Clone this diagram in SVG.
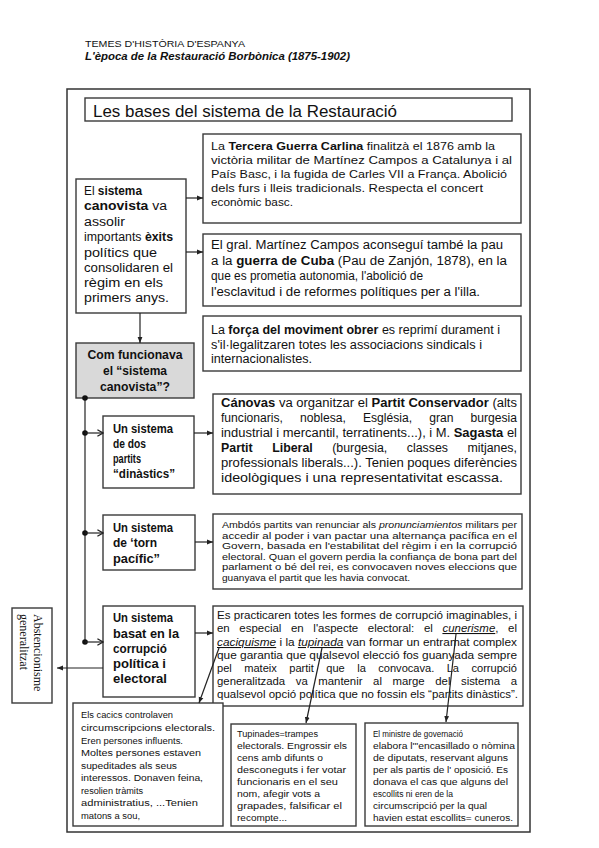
<svg xmlns="http://www.w3.org/2000/svg" width="599" height="848" viewBox="0 0 599 848">
<style>
text{font-family:"Liberation Sans",Arial,sans-serif;fill:#111;}
.b{font-weight:bold;}
.box{fill:#fff;stroke:#3a3a3a;stroke-width:1.4;}
.gray{fill:#d9d9d9;stroke:#3a3a3a;stroke-width:1.4;}
.c{fill:none;stroke:#222;stroke-width:1.2;}
.f12{font-size:12.3px;}
.f11{font-size:11.3px;}
.f10{font-size:10.7px;}
.f9{font-size:9.4px;}
.fs{font-size:9.2px;}
.bl{font-size:12.5px;font-weight:bold;}
.u{text-decoration:underline;font-style:italic;}
.serif{font-family:"Liberation Serif","Times New Roman",serif;font-size:12px;}
</style>
<defs>
<marker id="fa" viewBox="0 0 10 10" refX="10" refY="5" markerWidth="6" markerHeight="6" orient="auto" markerUnits="userSpaceOnUse"><path d="M0,1 L10,5 L0,9 z" fill="#222"/></marker>
<marker id="oa" viewBox="0 0 10 10" refX="9" refY="5" markerWidth="8" markerHeight="8" orient="auto" markerUnits="userSpaceOnUse"><path d="M2,1 L9,5 L2,9" fill="none" stroke="#222" stroke-width="1.6"/></marker>
</defs>
<rect width="599" height="848" fill="#fff"/>

<g id="header">
<text x="85" y="47" font-size="9.5" textLength="160" lengthAdjust="spacingAndGlyphs">TEMES D'HISTÒRIA D'ESPANYA</text>
<text x="85" y="60" font-size="10" font-weight="bold" font-style="italic" textLength="265" lengthAdjust="spacingAndGlyphs">L'època de la Restauració Borbònica (1875-1902)</text>
</g>

<rect id="frame" x="67" y="89" width="463" height="743" fill="none" stroke="#333" stroke-width="1.5"/>

<g id="title">
<rect class="box" x="85" y="98" width="427" height="23"/>
<text x="93" y="117" font-size="16" textLength="304" lengthAdjust="spacingAndGlyphs">Les bases del sistema de la Restauració</text>
</g>

<g id="canovista">
<rect class="box" x="76" y="179" width="110" height="134"/>
<text class="f12" x="84" y="195" textLength="58" lengthAdjust="spacingAndGlyphs">El <tspan class="b">sistema</tspan></text>
<text class="f12" x="84" y="210" textLength="83" lengthAdjust="spacingAndGlyphs"><tspan class="b">canovista</tspan> va</text>
<text class="f12" x="84" y="226" textLength="41" lengthAdjust="spacingAndGlyphs">assolir</text>
<text class="f12" x="84" y="241" textLength="89" lengthAdjust="spacingAndGlyphs">importants <tspan class="b">èxits</tspan></text>
<text class="f12" x="84" y="257" textLength="73" lengthAdjust="spacingAndGlyphs">polítics que</text>
<text class="f12" x="84" y="272" textLength="89" lengthAdjust="spacingAndGlyphs">consolidaren el</text>
<text class="f12" x="84" y="287" textLength="79" lengthAdjust="spacingAndGlyphs">règim en els</text>
<text class="f12" x="84" y="302" textLength="85" lengthAdjust="spacingAndGlyphs">primers anys.</text>
</g>

<g id="carlina">
<rect class="box" x="203" y="134" width="318" height="89"/>
<text class="f11" x="211" y="150" textLength="284" lengthAdjust="spacingAndGlyphs">La <tspan class="b">Tercera Guerra Carlina</tspan> finalitzà el 1876 amb la</text>
<text class="f11" x="211" y="164" textLength="301" lengthAdjust="spacingAndGlyphs">victòria militar de Martínez Campos a Catalunya i al</text>
<text class="f11" x="211" y="178" textLength="296" lengthAdjust="spacingAndGlyphs">País Basc, i la fugida de Carles VII a França. Abolició</text>
<text class="f11" x="211" y="192" textLength="272" lengthAdjust="spacingAndGlyphs">dels furs i lleis tradicionals. Respecta el concert</text>
<text class="f11" x="211" y="206" textLength="82" lengthAdjust="spacingAndGlyphs">econòmic basc.</text>
</g>

<g id="cuba">
<rect class="box" x="203" y="234" width="318" height="72"/>
<text class="f12" x="211" y="249" textLength="292" lengthAdjust="spacingAndGlyphs">El gral. Martínez Campos aconseguí també la pau</text>
<text class="f12" x="211" y="265" textLength="296" lengthAdjust="spacingAndGlyphs">a la <tspan class="b">guerra de Cuba</tspan> (Pau de Zanjón, 1878), en la</text>
<text class="f12" x="211" y="280" textLength="212" lengthAdjust="spacingAndGlyphs">que es prometia autonomia, l'abolició de</text>
<text class="f12" x="211" y="296" textLength="269" lengthAdjust="spacingAndGlyphs">l'esclavitud i de reformes polítiques per a l'illa.</text>
</g>

<g id="obrer">
<rect class="box" x="203" y="316" width="318" height="55"/>
<text class="f12" x="211" y="334" textLength="289" lengthAdjust="spacingAndGlyphs">La <tspan class="b">força del moviment obrer</tspan> es reprimí durament i</text>
<text class="f12" x="211" y="349" textLength="271" lengthAdjust="spacingAndGlyphs">s'il·legalitzaren totes les associacions sindicals i</text>
<text class="f12" x="211" y="363" textLength="101" lengthAdjust="spacingAndGlyphs">internacionalistes.</text>
</g>

<g id="comfunciona">
<rect class="gray" x="76" y="343" width="118" height="55"/>
<text x="135" y="359" font-size="13" font-weight="bold" text-anchor="middle" textLength="95" lengthAdjust="spacingAndGlyphs">Com funcionava</text>
<text x="135" y="375" font-size="13" font-weight="bold" text-anchor="middle" textLength="64" lengthAdjust="spacingAndGlyphs">el “sistema</text>
<text x="135" y="391" font-size="13" font-weight="bold" text-anchor="middle" textLength="70" lengthAdjust="spacingAndGlyphs">canovista”?</text>
</g>

<g id="dospartits">
<rect class="box" x="103" y="416" width="91" height="72"/>
<text class="bl" x="113" y="433" textLength="60" lengthAdjust="spacingAndGlyphs">Un sistema</text>
<text class="bl" x="113" y="448" textLength="33" lengthAdjust="spacingAndGlyphs">de dos</text>
<text class="bl" x="113" y="463" textLength="28" lengthAdjust="spacingAndGlyphs">partits</text>
<text class="bl" x="113" y="478" textLength="62" lengthAdjust="spacingAndGlyphs">“dinàstics”</text>
</g>

<g id="canovas">
<rect class="box" x="213" y="394" width="308" height="100"/>
<text class="f12" x="221" y="407" textLength="296" lengthAdjust="spacingAndGlyphs"><tspan class="b">Cánovas</tspan> va organitzar el <tspan class="b">Partit Conservador</tspan> (alts</text>
<text class="f12" x="221" y="422" textLength="296" lengthAdjust="spacingAndGlyphs" word-spacing="14">funcionaris, noblesa, Església, gran burgesia</text>
<text class="f12" x="221" y="437" textLength="296" lengthAdjust="spacingAndGlyphs">industrial i mercantil, terratinents...), i M. <tspan class="b">Sagasta</tspan> el</text>
<text class="f12" x="221" y="452" textLength="296" lengthAdjust="spacingAndGlyphs" word-spacing="16"><tspan class="b">Partit Liberal</tspan> (burgesia, classes mitjanes,</text>
<text class="f12" x="221" y="467" textLength="296" lengthAdjust="spacingAndGlyphs">professionals liberals...). Tenien poques diferències</text>
<text class="f12" x="221" y="482" textLength="282" lengthAdjust="spacingAndGlyphs">ideològiques i una representativitat escassa.</text>
</g>

<g id="torn">
<rect class="box" x="103" y="515" width="92" height="55"/>
<text class="bl" x="113" y="532" textLength="60" lengthAdjust="spacingAndGlyphs">Un sistema</text>
<text class="bl" x="113" y="547" textLength="44" lengthAdjust="spacingAndGlyphs">de ‘torn</text>
<text class="bl" x="113" y="563" textLength="47" lengthAdjust="spacingAndGlyphs">pacífic”</text>
</g>

<g id="ambdos">
<rect class="box" x="213" y="514" width="309" height="75"/>
<text class="f9" x="222" y="528" textLength="295" lengthAdjust="spacingAndGlyphs">Ambdós partits van renunciar als <tspan font-style="italic">pronunciamientos</tspan> militars per</text>
<text class="f9" x="222" y="538.5" textLength="295" lengthAdjust="spacingAndGlyphs">accedir al poder i van pactar una alternança pacífica en el</text>
<text class="f9" x="222" y="549" textLength="295" lengthAdjust="spacingAndGlyphs">Govern, basada en l'estabilitat del règim i en la corrupció</text>
<text class="f9" x="222" y="559.5" textLength="295" lengthAdjust="spacingAndGlyphs">electoral. Quan el govern perdia la confiança de bona part del</text>
<text class="f9" x="222" y="570" textLength="295" lengthAdjust="spacingAndGlyphs">parlament o bé del rei, es convocaven noves eleccions que</text>
<text class="f9" x="222" y="580.5" textLength="188" lengthAdjust="spacingAndGlyphs">guanyava el partit que les havia convocat.</text>
</g>

<g id="corrupcio">
<rect class="box" x="103" y="606" width="92" height="91"/>
<text x="113" y="622" font-size="13" font-weight="bold" textLength="60" lengthAdjust="spacingAndGlyphs">Un sistema</text>
<text x="113" y="638" font-size="13" font-weight="bold" textLength="66" lengthAdjust="spacingAndGlyphs">basat en la</text>
<text x="113" y="653" font-size="13" font-weight="bold" textLength="54" lengthAdjust="spacingAndGlyphs">corrupció</text>
<text x="113" y="668" font-size="13" font-weight="bold" textLength="53" lengthAdjust="spacingAndGlyphs">política i</text>
<text x="113" y="683" font-size="13" font-weight="bold" textLength="54" lengthAdjust="spacingAndGlyphs">electoral</text>
</g>

<g id="abstencionisme">
<rect class="box" x="12" y="608" width="40" height="95"/>
<text class="serif" transform="translate(34,614) rotate(90)">Abstencionisme</text>
<text class="serif" transform="translate(20,614) rotate(90)">generalitzat</text>
</g>

<g id="practicaren">
<rect class="box" x="213" y="606" width="310" height="100"/>
<text class="f10" x="217" y="619" textLength="300" lengthAdjust="spacingAndGlyphs">Es practicaren totes les formes de corrupció imaginables, i</text>
<text class="f10" x="217" y="632" textLength="300" lengthAdjust="spacingAndGlyphs" word-spacing="6">en especial en l'aspecte electoral: el <tspan class="u">cunerisme</tspan>, el</text>
<text class="f10" x="217" y="646" textLength="300" lengthAdjust="spacingAndGlyphs"><tspan class="u">caciquisme</tspan> i la <tspan class="u">tupinada</tspan> van formar un entramat complex</text>
<text class="f10" x="217" y="659" textLength="300" lengthAdjust="spacingAndGlyphs">que garantia que qualsevol elecció fos guanyada sempre</text>
<text class="f10" x="217" y="672" textLength="300" lengthAdjust="spacingAndGlyphs" word-spacing="9">pel mateix partit que la convocava. La corrupció</text>
<text class="f10" x="217" y="685" textLength="300" lengthAdjust="spacingAndGlyphs" word-spacing="7">generalitzada va mantenir al marge del sistema a</text>
<text class="f10" x="217" y="698" textLength="301" lengthAdjust="spacingAndGlyphs">qualsevol opció política que no fossin els “partits dinàstics”.</text>
</g>

<g id="cacics">
<rect class="box" x="73" y="703" width="150" height="123"/>
<text class="fs" x="81" y="718" textLength="92" lengthAdjust="spacingAndGlyphs">Els cacics controlaven</text>
<text class="fs" x="81" y="731" textLength="134" lengthAdjust="spacingAndGlyphs">circumscripcions electorals.</text>
<text class="fs" x="81" y="744" textLength="102" lengthAdjust="spacingAndGlyphs">Eren persones influents.</text>
<text class="fs" x="81" y="756" textLength="120" lengthAdjust="spacingAndGlyphs">Moltes persones estaven</text>
<text class="fs" x="81" y="769" textLength="96" lengthAdjust="spacingAndGlyphs">supeditades als seus</text>
<text class="fs" x="81" y="781" textLength="122" lengthAdjust="spacingAndGlyphs">interessos. Donaven feina,</text>
<text class="fs" x="81" y="794" textLength="62" lengthAdjust="spacingAndGlyphs">resolien tràmits</text>
<text class="fs" x="81" y="806" textLength="117" lengthAdjust="spacingAndGlyphs">administratius, ...Tenien</text>
<text class="fs" x="81" y="819" textLength="59" lengthAdjust="spacingAndGlyphs">matons a sou,</text>
</g>

<g id="tupinades">
<rect class="box" x="231" y="724" width="125" height="102"/>
<text class="fs" x="237" y="737" textLength="81" lengthAdjust="spacingAndGlyphs">Tupinades=trampes</text>
<text class="fs" x="237" y="749" textLength="110" lengthAdjust="spacingAndGlyphs">electorals. Engrossir els</text>
<text class="fs" x="237" y="761" textLength="86" lengthAdjust="spacingAndGlyphs">cens amb difunts o</text>
<text class="fs" x="237" y="773" textLength="109" lengthAdjust="spacingAndGlyphs">desconeguts i fer votar</text>
<text class="fs" x="237" y="785" textLength="101" lengthAdjust="spacingAndGlyphs">funcionaris en el seu</text>
<text class="fs" x="237" y="797" textLength="83" lengthAdjust="spacingAndGlyphs">nom, afegir vots a</text>
<text class="fs" x="237" y="809" textLength="105" lengthAdjust="spacingAndGlyphs">grapades, falsificar el</text>
<text class="fs" x="237" y="821" textLength="50" lengthAdjust="spacingAndGlyphs">recompte...</text>
</g>

<g id="ministre">
<rect class="box" x="365" y="723" width="153" height="103"/>
<text class="fs" x="373" y="737" textLength="90" lengthAdjust="spacingAndGlyphs">El ministre de governació</text>
<text class="fs" x="373" y="749" textLength="142" lengthAdjust="spacingAndGlyphs">elabora l'"encasillado o nòmina</text>
<text class="fs" x="373" y="761" textLength="135" lengthAdjust="spacingAndGlyphs">de diputats, reservant alguns</text>
<text class="fs" x="373" y="773" textLength="135" lengthAdjust="spacingAndGlyphs">per als partis de l' oposició. Es</text>
<text class="fs" x="373" y="785" textLength="135" lengthAdjust="spacingAndGlyphs">donava el cas que alguns del</text>
<text class="fs" x="373" y="797" textLength="80" lengthAdjust="spacingAndGlyphs">escollits ni eren de la</text>
<text class="fs" x="373" y="809" textLength="114" lengthAdjust="spacingAndGlyphs">circumscripció per la qual</text>
<text class="fs" x="373" y="821" textLength="140" lengthAdjust="spacingAndGlyphs">havien estat escollits= cuneros.</text>
</g>

<g id="connectors">
<line class="c" x1="186" y1="198" x2="203" y2="198" marker-end="url(#fa)"/>
<line class="c" x1="186" y1="252" x2="203" y2="252" marker-end="url(#fa)"/>
<line class="c" x1="140" y1="313" x2="140" y2="343" marker-end="url(#fa)"/>
<line class="c" x1="85" y1="398" x2="85" y2="642"/>
<circle cx="85" cy="398" r="2.8" fill="#111"/>
<circle cx="85" cy="433" r="2.8" fill="#111"/>
<circle cx="85" cy="533" r="2.8" fill="#111"/>
<circle cx="85" cy="642" r="2.8" fill="#111"/>
<line class="c" x1="85" y1="433" x2="103" y2="433" marker-end="url(#oa)"/>
<line class="c" x1="85" y1="533" x2="103" y2="533" marker-end="url(#oa)"/>
<line class="c" x1="85" y1="642" x2="103" y2="642" marker-end="url(#oa)"/>
<line class="c" x1="194" y1="433" x2="213" y2="433" marker-end="url(#fa)"/>
<line class="c" x1="195" y1="542" x2="213" y2="542" marker-end="url(#fa)"/>
<line class="c" x1="195" y1="633" x2="213" y2="633" marker-end="url(#fa)"/>
<line class="c" x1="103" y1="668" x2="57" y2="668" marker-end="url(#fa)"/>
<line class="c" x1="219" y1="648" x2="199" y2="703" marker-end="url(#fa)"/>
<line class="c" x1="322" y1="648" x2="306" y2="723" marker-end="url(#fa)"/>
<line class="c" x1="456" y1="634" x2="446" y2="722" marker-end="url(#fa)"/>
</g>
</svg>
